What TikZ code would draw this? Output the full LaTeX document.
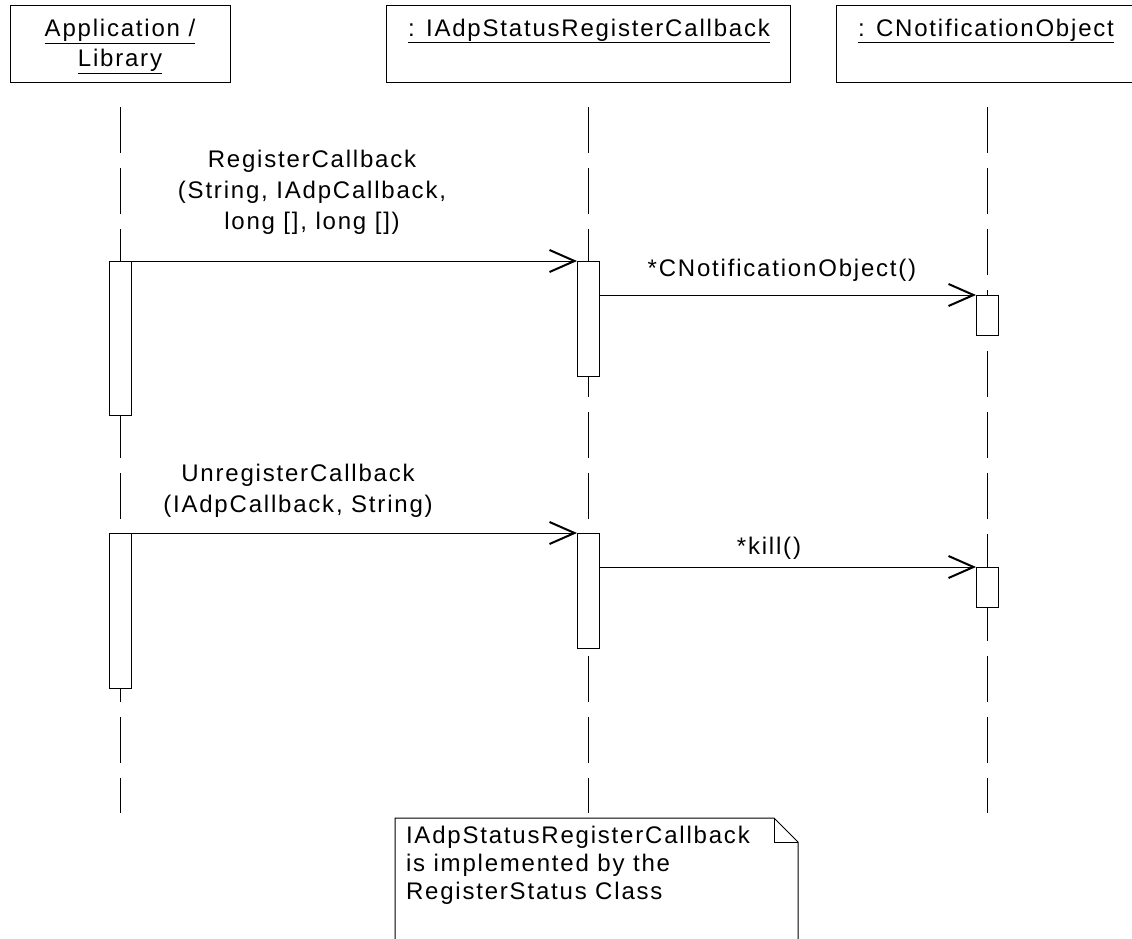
\documentclass[tikz,border=0pt]{standalone}
\usepackage{fontspec}
\setmainfont{Liberation Sans}[LetterSpace=7.5]
\usetikzlibrary{arrows.meta}
\begin{document}
\begin{tikzpicture}[x=1pt,y=1pt,
  every node/.style={inner sep=0pt, outer sep=0pt},
  objbox/.style={draw, line width=1pt, minimum height=77pt},
  objname/.style={font=\fontsize{24}{30}\selectfont, anchor=base},
  act/.style={draw, fill=white, line width=1pt, minimum width=22pt, anchor=north},
  lifeline/.style={line width=1pt, dash pattern=on 46pt off 15pt},
  msg/.style={line width=1pt, -{Straight Barb[length=25pt,width=22pt,line width=2pt]}},
  msglabel/.style={font=\fontsize{24}{31}\selectfont, align=center},
  notetxt/.style={font=\fontsize{24}{28}\selectfont, align=left, anchor=north west},
  ]
\useasboundingbox (0,0) rectangle (1132,-938);

% object headers
\node[objbox, minimum width=220pt] (app) at (120,-43.5) {};
\node[objbox, minimum width=404pt] (reg) at (588,-43.5) {};
\node[objbox, minimum width=302pt] (note) at (987,-43.5) {};
\node[objname] (appname) at (120,-36.7) {\underline{Application /}};
\node[objname] (applib) at (120,-66.7) {\underline{Library}};
\node[objname] (regname) at (589,-36) {\underline{: IAdpStatusRegisterCallback}};
\node[objname] (notename) at (986,-36) {\underline{: CNotificationObject}};

% lifelines
\draw[lifeline] ([yshift=-25pt]app.south) -- ([yshift=-731pt]app.south);
\draw[lifeline] ([yshift=-25pt]reg.south) -- ([yshift=-731pt]reg.south);
\draw[lifeline] ([yshift=-25pt]note.south) -- ([yshift=-731pt]note.south);

% activations
\node[act, minimum height=154pt] (a1) at (120,-261) {};
\node[act, minimum height=115pt] (r1) at (588,-261) {};
\node[act, minimum height=40pt]  (n1) at (987,-295) {};
\node[act, minimum height=155pt] (a2) at (120,-533) {};
\node[act, minimum height=115pt] (r2) at (588,-533) {};
\node[act, minimum height=40pt]  (n2) at (987,-567) {};

% messages
\draw[msg] (a1.north east) -- (r1.north west);
\draw[msg] (r1.east |- n1.north west) -- (n1.north west);
\draw[msg] (a2.north east) -- (r2.north west);
\draw[msg] (r2.east |- n2.north west) -- (n2.north west);

\node[msglabel, anchor=north] (m1) at (312,-150.5) {RegisterCallback\\(String, IAdpCallback,\\long [], long [])};
\node[msglabel, anchor=base] (m2) at (782,-276) {*CNotificationObject()};
\node[msglabel, anchor=north] (m3) at (298,-463.8) {UnregisterCallback\\(IAdpCallback, String)};
\node[msglabel, anchor=base] (m4) at (769,-554) {*kill()};

% note with folded corner
\coordinate (nw) at (395,-818);
\coordinate (fold) at (774,-818);
\coordinate (foldb) at (774,-842);
\coordinate (fe) at (798,-842);
\draw[line width=1pt] (395,-945) -- (nw) -- (fold) -- (fe) -- (798,-945);
\draw[line width=1pt] (fold) -- (foldb) -- (fe);
\node[notetxt] (notebody) at (406,-826.3) {IAdpStatusRegisterCallback\\is implemented by the\\RegisterStatus Class};
\end{tikzpicture}
\end{document}
